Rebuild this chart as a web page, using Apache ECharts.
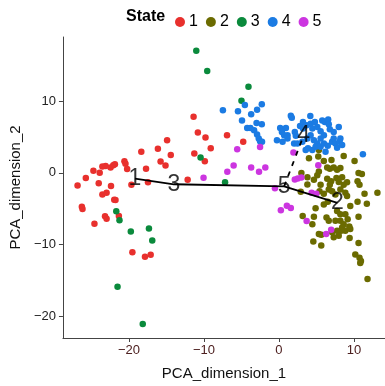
<!DOCTYPE html>
<html>
<head>
<meta charset="utf-8">
<script src="https://cdn.jsdelivr.net/npm/echarts@6/dist/echarts.min.js"></script>
<style>html,body{margin:0;padding:0;background:#fff}#c{width:385px;height:386px}</style>
</head>
<body>
<div id="c"></div>
<script>
const states = ['1','2','3','4','5'];
const xTicks = [-20,-10,0,10];
const yTicks = [-20,-10,0,10];

const state1 = [[-26.85,-1.76],[-25.75,-0.73],[-24.74,0.28],[-23.9,0.0],[-23.54,0.88],[-23.11,0.96],[-22.45,0.74],[-22.09,1.06],[-21.87,1.2],[-24.03,-1.46],[-22.39,-1.83],[-20.6,1.61],[-20.46,1.24],[-20.24,0.51],[-19.67,-1.65],[-18.35,2.94],[-17.72,0.55],[-17.46,-1.32],[-16.14,3.36],[-14.91,4.54],[-15.78,1.57],[-15.12,1.02],[-14.42,2.48],[-12.17,-0.96],[-11.38,7.8],[-10.81,5.6],[-9.79,4.91],[-9.09,3.4],[-11.28,2.67],[-9.88,1.61],[-23.54,-3.03],[-22.98,-2.79],[-26.28,-4.72],[-26.19,-5.03],[-21.96,-3.76],[-21.79,-3.8],[-23.19,-6.05],[-22.98,-6.41],[-21.34,-6.0],[-24.6,-7.1],[-19.54,-11.05],[-17.86,-11.69],[-17.1,-11.42],[-6.92,5.23],[-4.76,4.32]];

const state2 = [[5.33,3.16],[4.01,2.02],[5.99,1.65],[7.01,1.79],[8.64,2.34],[10.09,1.65],[6.44,0.74],[6.79,0.55],[7.31,0.74],[7.76,0.41],[8.2,0.65],[5.33,0.19],[5.12,-0.36],[3.0,-0.04],[3.8,-0.63],[10.62,-0.04],[11.07,-0.18],[6.44,-0.83],[6.97,-1.18],[7.67,-0.73],[8.43,-0.63],[9.09,-1.32],[10.49,-1.18],[10.75,-1.65],[5.56,-1.65],[3.8,-1.62],[4.67,-0.96],[6.79,-1.65],[7.98,-1.28],[8.64,-1.65],[2.91,-2.65],[5.42,-2.56],[5.99,-2.93],[6.65,-2.34],[7.1,-2.56],[7.54,-3.03],[8.2,-2.34],[8.86,-2.79],[9.09,-3.25],[11.42,-2.93],[13.14,-2.79],[10.49,-4.03],[11.73,-4.31],[9.52,-4.62],[4.89,-4.95],[5.99,-4.4],[6.52,-4.03],[7.76,-5.31],[8.2,-5.78],[8.86,-5.78],[9.17,-6.46],[3.17,-6.0],[4.67,-6.13],[6.35,-6.23],[6.65,-6.68],[7.54,-6.68],[8.2,-6.68],[8.64,-7.15],[8.43,-7.61],[8.86,-8.06],[8.29,-8.06],[9.39,-7.47],[9.52,-7.84],[7.76,-8.06],[7.98,-8.75],[10.62,-6.13],[4.46,-7.15],[5.33,-8.53],[5.65,-8.61],[7.1,-8.29],[7.31,-8.98],[9.43,-9.08],[4.59,-9.57],[5.65,-10.12],[10.62,-9.77],[10.19,-11.36],[10.75,-11.83],[10.94,-12.28],[10.85,-12.56],[11.82,-14.8],[5.25,2.28]];

const state3 = [[-21.69,-5.36],[-21.26,-6.6],[-19.75,-8.16],[-17.33,-7.74],[-16.89,-9.44],[-21.52,-15.86],[-18.16,-21.05],[-11.02,16.97],[-9.56,14.17],[-4.06,11.97],[-4.99,10.04],[-10.45,2.12],[-7.18,-1.32]];

const state4 = [[-7.47,8.72],[-5.46,8.56],[-4.54,9.45],[-4.92,7.29],[-3.7,8.14],[-2.91,8.76],[-2.28,9.55],[-2.98,6.93],[-2.28,6.74],[-4.23,6.24],[-3.8,6.24],[-3.31,5.91],[-2.91,5.32],[-2.69,4.77],[-2.51,4.4],[-2.25,4.32],[1.59,7.95],[1.72,7.66],[4.19,7.9],[0.17,6.24],[0.93,6.24],[0.4,5.69],[0.7,5.23],[1.15,5.23],[-0.26,4.54],[0.49,4.32],[1.15,4.77],[2.12,5.69],[2.25,5.14],[2.03,4.08],[2.82,6.52],[3.21,7.07],[3.21,6.15],[3.7,6.6],[4.23,6.84],[4.46,6.15],[4.8,7.07],[5.12,6.38],[5.56,5.78],[5.78,7.29],[6.12,7.07],[6.57,7.43],[6.65,6.74],[6.79,6.05],[3.8,4.77],[4.23,5.23],[4.67,4.54],[5.12,4.08],[5.56,4.77],[6.0,5.23],[3.57,3.16],[3.88,3.4],[4.46,3.16],[4.89,3.63],[5.56,3.63],[6.22,2.94],[6.0,4.08],[6.52,3.77],[7.1,4.32],[7.31,4.77],[7.54,4.08],[7.76,3.49],[8.1,4.32],[8.43,3.85],[7.98,6.38],[7.31,5.69],[8.2,4.77],[11.2,2.57],[2.47,4.08],[3.13,4.32]];

const state5 = [[-5.56,3.26],[-6.04,1.02],[-6.88,0.14],[-3.7,0.74],[-2.65,0.14],[-1.81,0.74],[-10.05,-0.69],[-2.51,3.6],[-0.53,-2.17],[1.94,2.81],[5.25,1.06],[2.12,-0.94],[2.51,-0.8],[3.0,-0.66],[0.26,-5.2],[1.06,-4.58],[1.59,-4.92],[3.7,-6.71],[4.37,-2.79],[4.99,-2.93],[6.31,-8.53],[6.97,-7.92]];

// trajectory nodes
const nodeNames = ['1','3','5','2','4'];
const nodeX = [-19.2,-14.0,0.7,7.8,3.3];
const nodeY = [-0.8,-1.6,-1.9,-4.2,5.2];
const solidPath = ['1','3','5','2'];
const dashedPath = ['5','4'];

const colors = ['#E8302D','#6B6B00','#0A8A3C','#1B7BE3','#CC35E0'];
const stateData = [state1,state2,state3,state4,state5];

function node(n){const i=nodeNames.indexOf(n);return [nodeX[i],nodeY[i]];}
const fmt = v => String(v).replace('-', '\u2212');
const fontFam = 'Liberation Sans, Arial, Helvetica, sans-serif';

const series = states.map((s,i)=>({
  name: s, type:'scatter', data: stateData[i], symbolSize: 6.5,
  itemStyle:{color: colors[i], opacity:1}, z: 2
}));
series.push({type:'line', data: solidPath.map(node), symbol:'none',
  lineStyle:{color:'#000', width:1.8}, z:3, silent:true});
series.push({type:'line', data: dashedPath.map(node), symbol:'none',
  lineStyle:{color:'#000', width:1.8, type:[5,6]}, z:3, silent:true});
series.push({type:'scatter', symbolSize:0, z:4, silent:true,
  data: nodeNames.map((n,i)=>({value:[nodeX[i],nodeY[i]], name:n})),
  label:{show:true, position:'inside', formatter: p=>p.name, fontSize:23, color:'#000', fontFamily: fontFam}});

const chart = echarts.init(document.getElementById('c'), null, {renderer:'canvas'});
chart.setOption({
  animation:false,
  textStyle:{fontFamily: fontFam},
  color: colors,
  graphic:[{type:'text', left:126, top:9, style:{text:'State', fontSize:16, fontWeight:'bold', fill:'#000', fontFamily: fontFam}}],
  legend:{data: states, left:170, top:9, icon:'circle', itemWidth:10, itemHeight:10, itemGap:8,
    textStyle:{fontSize:16, color:'#000', fontFamily: fontFam, padding:[0,0,0,-1]}},
  grid:{left:60, right:0, top:37, bottom:44},
  xAxis:{type:'value', min:-28.8, max:14.15, name:'PCA_dimension_1', nameLocation:'middle', nameGap:28,
    nameTextStyle:{fontSize:15, color:'#111'},
    splitLine:{show:false},
    axisLine:{show:true, onZero:false, lineStyle:{color:'#444', width:1}},
    axisTick:{show:true, length:4, customValues:xTicks, lineStyle:{color:'#444'}},
    axisLabel:{customValues:xTicks, formatter:fmt, fontSize:13, color:'#4D2020', margin:6}},
  yAxis:{type:'value', min:-23, max:18.9, name:'PCA_dimension_2', nameLocation:'middle', nameGap:39, nameRotate:90,
    nameTextStyle:{fontSize:15, color:'#111'},
    splitLine:{show:false},
    axisLine:{show:true, onZero:false, lineStyle:{color:'#444', width:1}},
    axisTick:{show:true, length:4, customValues:yTicks, lineStyle:{color:'#444'}},
    axisLabel:{customValues:yTicks, formatter:fmt, fontSize:13, color:'#222', margin:7}},
  series: series
});
</script>
</body>
</html>
